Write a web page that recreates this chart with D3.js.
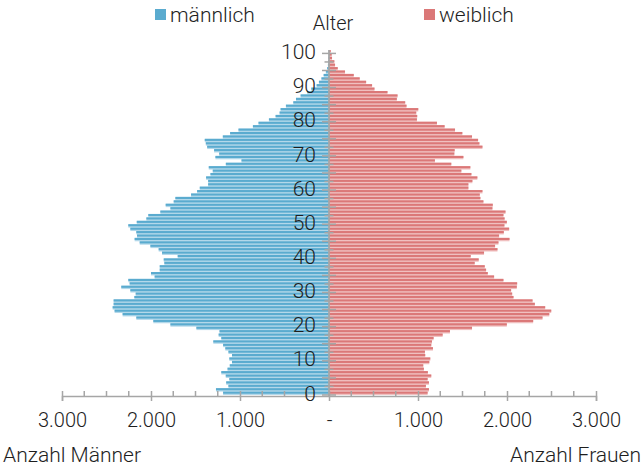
<!DOCTYPE html>
<html><head><meta charset="utf-8">
<script src="https://cdn.jsdelivr.net/npm/d3@7/dist/d3.min.js"></script>
<style>
html,body{margin:0;padding:0;background:#fff;}
svg{display:block;}
text{font-family:Roboto,"Open Sans",sans-serif;font-weight:300;fill:#1e1e1e;}
</style></head>
<body><svg id="c" width="644" height="467"></svg>
<script>
const ages = d3.range(0, 101);
const male = [1190,1270,1130,1155,1120,1160,1210,1140,1115,1090,
1120,1090,1130,1165,1190,1300,1210,1240,1230,1490,
1782,1974,2165,2319,2409,2431,2420,2420,2187,2172,
2232,2334,2240,2255,1959,2000,1902,1902,1850,1857,
1700,1876,1914,2007,2127,2184,2157,2165,2232,2255,
2160,2052,2030,1895,1782,1835,1745,1726,1550,1482,
1452,1358,1358,1381,1332,1306,1351,1159,983,1276,
1234,1291,1369,1384,1396,1193,1111,1017,855,792,
675,600,555,544,484,401,371,319,244,199,
139,113,85,60,35,20,12,8,5,3,2];
const female = [1108,1123,1089,1123,1108,1149,1111,1066,1059,1127,
1138,1081,1078,1168,1149,1157,1175,1277,1359,1607,
1998,2294,2399,2475,2497,2429,2313,2287,2073,2058,
2046,2110,2114,1960,1855,1784,1765,1750,1637,1682,
1592,1742,1893,1866,1904,2028,1911,1964,2024,1971,
1998,1973,1960,1983,1836,1840,1735,1701,1694,1724,
1566,1566,1611,1667,1600,1487,1588,1374,1190,1510,
1408,1412,1724,1690,1675,1607,1498,1416,1299,1213,
988,991,980,1003,871,856,762,770,657,511,
484,417,345,278,180,98,68,60,34,30,19];
const xTicks = [-3000,-2000,-1000,0,1000,2000,3000];
const xTickLabels = ["3.000","2.000","1.000","-","1.000","2.000","3.000"];
const yLabels = [0,10,20,30,40,50,60,70,80,90,100];
const seriesNames = ["männlich","weiblich"];
const colors = {m:"#5aabcf", mLight:"#b3d8ea", f:"#db7878", fLight:"#f0c0c0"};

const svg = d3.select("#c");
const x = d3.scaleLinear().domain([-3000,3000]).range([62,596]);
const y = d3.scaleLinear().domain([-0.5,100.5]).range([395,50]);
const step = Math.abs(y(1)-y(0));
const axisY = 396;

// bars
const g = svg.append("g");
function drawBars(vals, sign, dark, light){
  g.selectAll(null).data(ages).enter().append("rect")
    .attr("x", a => sign<0 ? x(-vals[a]) : x(0))
    .attr("width", a => Math.abs(x(vals[a])-x(0)))
    .attr("y", a => y(a) - step/2)
    .attr("height", step)
    .attr("fill", light);
  g.selectAll(null).data(ages).enter().append("rect")
    .attr("x", a => sign<0 ? x(-vals[a]) : x(0))
    .attr("width", a => Math.abs(x(vals[a])-x(0)))
    .attr("y", a => y(a) - step/2)
    .attr("height", step*0.62)
    .attr("fill", dark);
}
drawBars(male, -1, colors.m, colors.mLight);
drawBars(female, 1, colors.f, colors.fLight);

// bottom axis
const ax = svg.append("g").attr("transform", `translate(0,${axisY})`)
  .call(d3.axisBottom(x).tickValues(xTicks).tickSize(5).tickFormat((d,i)=>xTickLabels[i]));
ax.select(".domain").attr("stroke","#a6a6a6").attr("stroke-width",1.5);
ax.selectAll(".tick line").attr("stroke","#a6a6a6").attr("stroke-width",1.5).attr("y1",-5).attr("y2",5);
ax.selectAll(".tick text").attr("y", 24).attr("dy","0.35em")
  .style("font-size","20px").style("font-family","Roboto,sans-serif").style("font-weight",300).attr("fill","#1e1e1e");
const minor = d3.range(-3000, 3001, 250).filter(v => v % 1000 !== 0);
svg.append("g").selectAll("line").data(minor).enter().append("line")
  .attr("x1", d=>x(d)).attr("x2", d=>x(d)).attr("y1", axisY-5).attr("y2", axisY)
  .attr("stroke","#a6a6a6").attr("stroke-width",1.5);

// center vertical axis
const cx = x(0);
svg.append("line").attr("x1",cx).attr("x2",cx).attr("y1",y(100.5)).attr("y2",axisY)
  .attr("stroke","#a6a6a6").attr("stroke-width",1.75);
const longT = d3.range(0,21).map(k => 99.5 - 5*k);
const shortT = d3.range(0,20).map(k => 97 - 5*k);
svg.append("g").selectAll("line").data(longT).enter().append("line")
  .attr("x1",cx-7).attr("x2",cx+7).attr("y1",d=>y(d)).attr("y2",d=>y(d))
  .attr("stroke","#a6a6a6").attr("stroke-width",1.5);
svg.append("g").selectAll("line").data(shortT).enter().append("line")
  .attr("x1",cx-4.5).attr("x2",cx+4.5).attr("y1",d=>y(d)).attr("y2",d=>y(d))
  .attr("stroke","#a6a6a6").attr("stroke-width",1.5);

// y labels
svg.append("g").selectAll("text").data(yLabels).enter().append("text")
  .attr("x", 316).attr("y", d=>y(d)).attr("dy","0.35em")
  .attr("text-anchor","end").style("font-size","21px").text(d=>d);

// titles
svg.append("text").attr("x",333).attr("y",23).attr("dy","0.35em").attr("text-anchor","middle")
  .style("font-size","20px").text("Alter");
svg.append("text").attr("x",3).attr("y",455).attr("dy","0.35em")
  .style("font-size","21px").text("Anzahl Männer");
svg.append("text").attr("x",641).attr("y",455).attr("dy","0.35em").attr("text-anchor","end")
  .style("font-size","21px").text("Anzahl Frauen");

// legend
const leg = [{n:seriesNames[0], c:colors.m, x:155},{n:seriesNames[1], c:colors.f, x:424}];
leg.forEach(l => {
  svg.append("rect").attr("x",l.x).attr("y",9).attr("width",11).attr("height",11).attr("fill",l.c);
  svg.append("text").attr("x",l.x+15).attr("y",15).attr("dy","0.35em").style("font-size","21px").text(l.n);
});
</script></body></html>
